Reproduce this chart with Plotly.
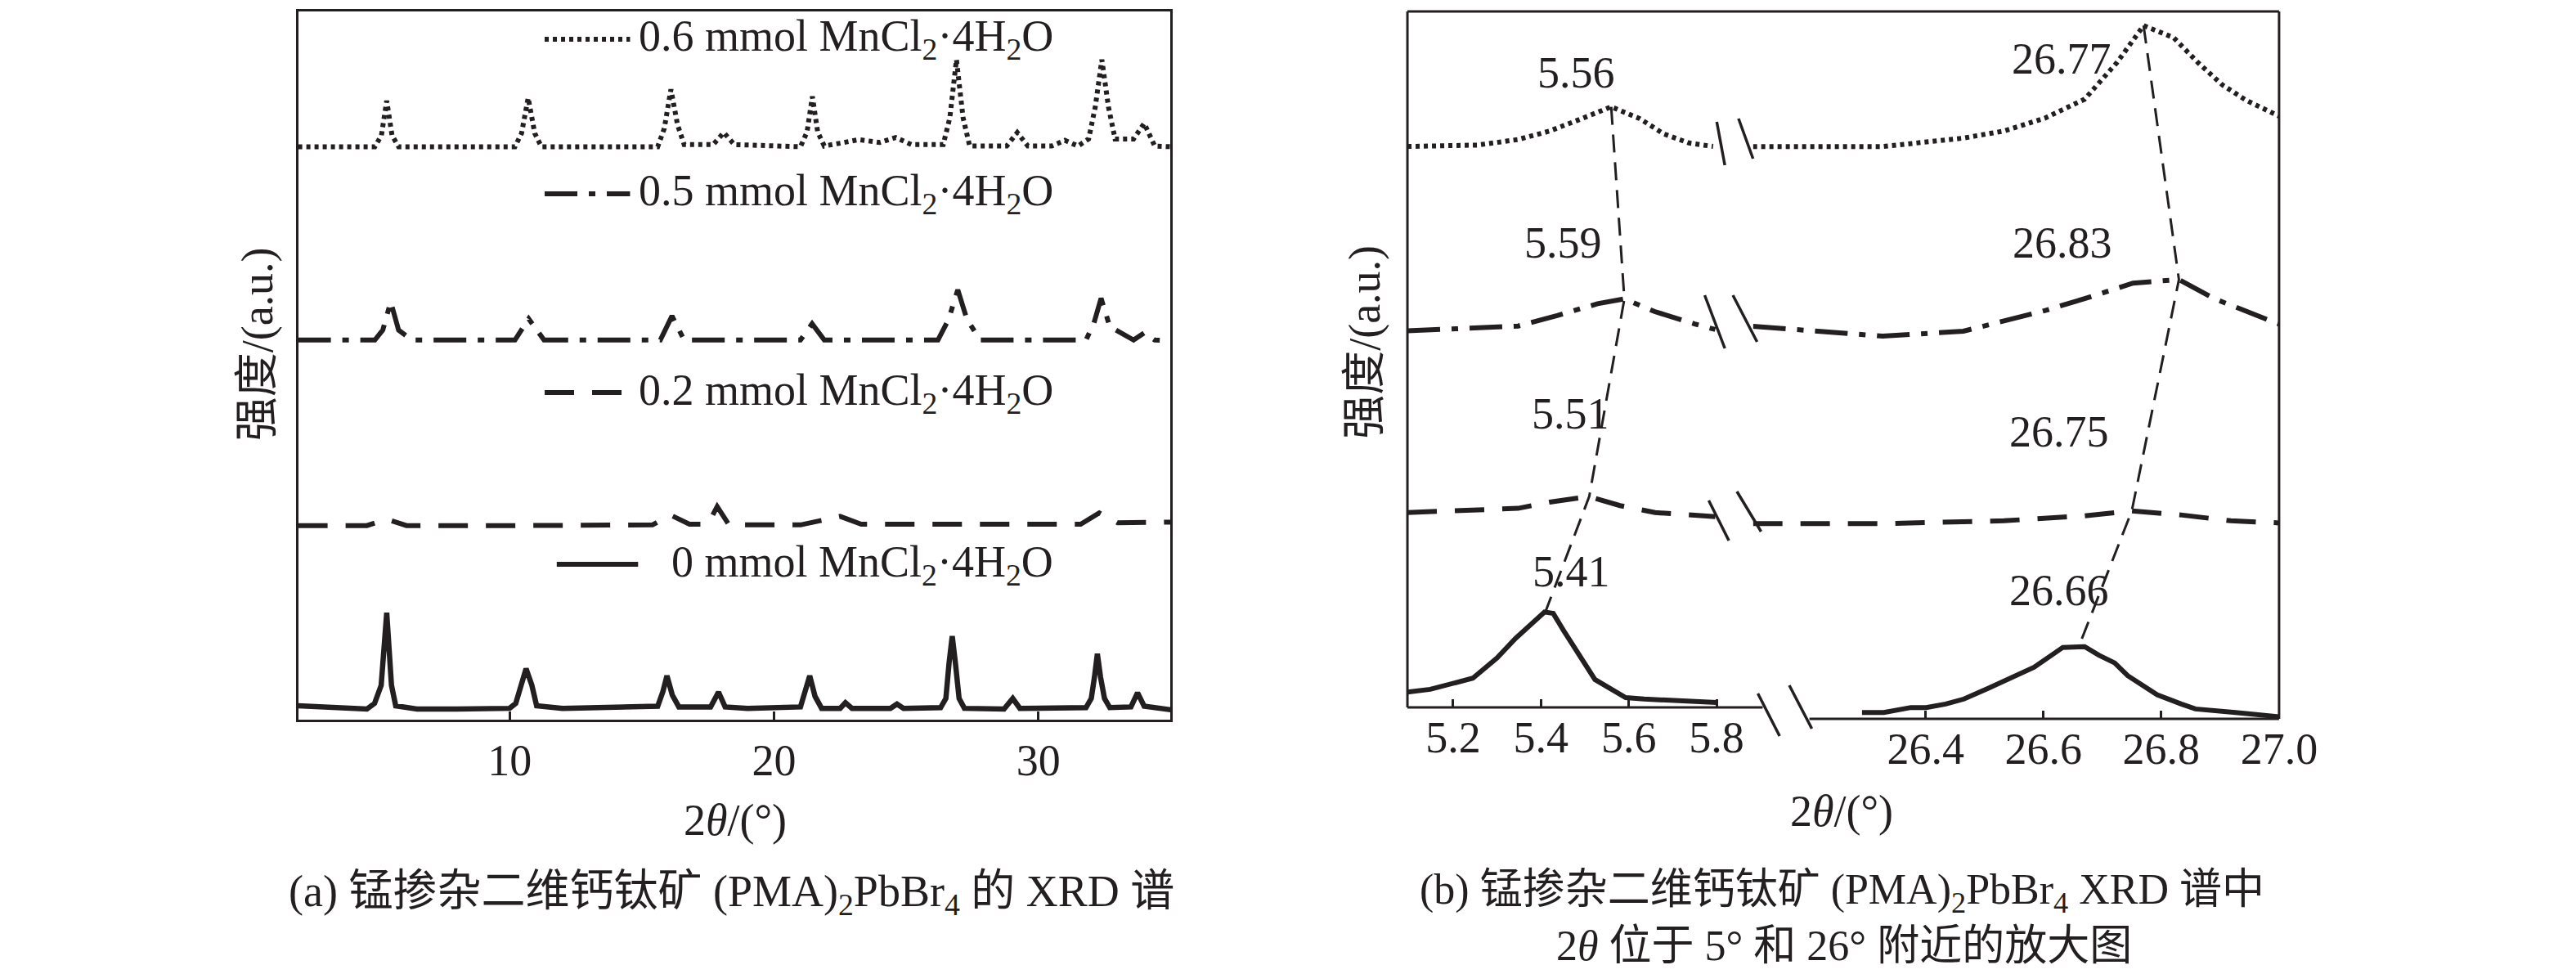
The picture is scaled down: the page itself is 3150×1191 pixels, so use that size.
import plotly.graph_objects as go

# ---- data (intensity in arbitrary units, 0-100 per panel) ----
# (a) full XRD patterns
x_0mmol = [2.0, 3.5, 4.6, 4.89, 5.14, 5.35, 5.53, 5.69, 6.5, 8.0, 10.0, 10.23, 10.41, 10.62, 10.84, 11.02,
           12.0, 14.0, 15.6, 15.8, 15.95, 16.15, 16.4, 17.6, 17.9, 18.15, 19.0, 21.0, 21.2, 21.35, 21.55,
           21.8, 22.5, 22.7, 22.95, 24.4, 24.65, 24.9, 26.3, 26.5, 26.62, 26.74, 26.86, 27.0, 27.2, 28.7,
           29.03, 29.3, 31.8, 32.0, 32.12, 32.23, 32.35, 32.5, 32.7, 33.5, 33.75, 34.0, 35.0]
y_0mmol = [1.96, 1.7, 1.5, 2.3, 4.85, 15.1, 4.85, 1.96, 1.5, 1.5, 1.6, 2.3, 4.85, 7.2, 4.85, 1.96,
           1.6, 1.7, 1.9, 4.0, 6.2, 3.5, 1.8, 1.8, 3.9, 1.8, 1.6, 1.8, 4.0, 6.2, 3.3,
           1.6, 1.6, 2.4, 1.6, 1.6, 2.2, 1.6, 1.7, 3.0, 8.0, 11.8, 8.0, 3.0, 1.6, 1.5,
           3.0, 1.6, 1.7, 3.0, 6.0, 9.3, 6.0, 3.0, 1.7, 1.8, 3.8, 1.9, 1.4]

x_02mmol = [2.0, 4.6, 5.35, 6.1, 10.0, 15.4, 16.08, 16.8, 17.5, 17.85, 18.3, 21.0, 22.5, 23.3, 28.0,
            31.6, 32.3, 33.0, 35.0]
y_02mmol = [27.4, 27.4, 28.3, 27.4, 27.4, 27.5, 28.9, 27.6, 27.6, 30.1, 27.5, 27.5, 28.7, 27.6, 27.6,
            27.6, 29.2, 27.8, 27.9]

x_05mmol = [2.0, 4.9, 5.2, 5.5, 5.8, 6.3, 10.2, 10.72, 11.3, 15.7, 16.14, 16.6, 21.0, 21.44, 21.9,
            26.2, 26.6, 26.95, 27.3, 27.8, 31.8, 32.1, 32.37, 32.7, 33.6, 34.0, 34.4, 35.0]
y_05mmol = [53.6, 53.6, 55.0, 59.0, 55.0, 53.6, 53.6, 56.6, 53.6, 53.6, 57.0, 53.6, 53.6, 55.9, 53.6,
            53.6, 56.5, 60.7, 56.5, 53.6, 53.6, 56.0, 59.5, 55.5, 53.6, 54.6, 53.6, 53.5]

x_06mmol = [2.0, 4.9, 5.15, 5.35, 5.55, 5.8, 10.2, 10.45, 10.7, 10.95, 11.2, 15.6, 15.85, 16.1, 16.35,
            16.6, 17.7, 18.1, 18.5, 21.0, 21.25, 21.45, 21.65, 21.9, 22.5, 23.2, 24.0, 24.6, 25.2,
            26.4, 26.65, 26.9, 27.15, 27.4, 28.8, 29.2, 29.6, 30.5, 31.0, 31.5, 31.9, 32.15, 32.4,
            32.65, 32.9, 33.6, 34.0, 34.4, 35.0]
y_06mmol = [80.9, 80.9, 82.5, 87.4, 82.5, 80.9, 80.9, 82.8, 87.8, 82.8, 80.9, 80.9, 83.5, 89.0, 84.0,
            81.2, 81.2, 82.9, 81.2, 80.9, 83.0, 88.0, 83.0, 81.0, 81.4, 81.9, 81.5, 82.2, 81.2,
            81.2, 85.0, 93.2, 85.0, 81.0, 81.0, 82.9, 81.0, 81.0, 81.8, 81.0, 82.0, 86.5, 93.2,
            86.5, 82.0, 82.0, 84.2, 81.0, 80.9]

# (b) zoom near 5 deg
x5_0mmol = [5.096, 5.148, 5.245, 5.300, 5.342, 5.408, 5.428, 5.452, 5.523, 5.593, 5.635, 5.800]
y5_0mmol = [2.2, 2.6, 4.2, 7.1, 9.9, 13.7, 13.5, 11.0, 4.0, 1.4, 1.2, 0.7]
x5_02mmol = [5.096, 5.348, 5.42, 5.51, 5.58, 5.66, 5.797]
y5_02mmol = [28.0, 28.6, 29.5, 30.3, 29.0, 28.0, 27.4]
x5_05mmol = [5.096, 5.348, 5.437, 5.529, 5.59, 5.658, 5.750, 5.797]
y5_05mmol = [54.1, 54.8, 56.3, 58.0, 58.7, 56.9, 55.1, 54.3]
x5_06mmol = [5.096, 5.256, 5.348, 5.419, 5.493, 5.56, 5.625, 5.680, 5.737, 5.792]
y5_06mmol = [80.6, 80.8, 81.6, 82.8, 84.6, 86.3, 84.6, 82.4, 81.1, 80.6]

# (b) zoom near 26 deg
x26_0mmol = [26.292, 26.329, 26.375, 26.401, 26.434, 26.465, 26.506, 26.547, 26.584, 26.633, 26.670,
             26.694, 26.721, 26.743, 26.793, 26.834, 26.858, 26.926, 27.0]
y26_0mmol = [0.9, 0.9, 1.6, 1.6, 2.1, 2.8, 4.3, 5.9, 7.3, 10.1, 10.2, 9.0, 7.9, 6.1, 3.4, 2.1, 1.4, 0.9, 0.3]
x26_02mmol = [26.107, 26.327, 26.533, 26.670, 26.75, 26.836, 26.918, 27.0]
y26_02mmol = [27.6, 27.6, 28.0, 28.7, 29.4, 28.8, 28.0, 27.7]
x26_05mmol = [26.107, 26.327, 26.464, 26.602, 26.670, 26.752, 26.83, 26.890, 27.0]
y26_05mmol = [55.5, 54.1, 54.8, 57.7, 59.4, 61.6, 62.1, 59.4, 55.8]
x26_06mmol = [26.107, 26.327, 26.464, 26.533, 26.602, 26.670, 26.725, 26.77, 26.821, 26.862, 26.904,
              26.945, 27.0]
y26_06mmol = [80.9, 80.9, 82.1, 83.1, 84.9, 87.6, 92.8, 98.0, 96.3, 92.8, 89.6, 87.4, 85.2]

# peak positions (labels) and their heights
peak5 = [5.56, 5.59, 5.51, 5.41]
peak5_h = [86.3, 58.7, 30.3, 13.7]
peak26 = [26.77, 26.83, 26.75, 26.66]
peak26_h = [98.0, 62.1, 29.4, 10.2]

legend_names = ["0.6 mmol MnCl<sub>2</sub>·4H<sub>2</sub>O", "0.5 mmol MnCl<sub>2</sub>·4H<sub>2</sub>O",
                "0.2 mmol MnCl<sub>2</sub>·4H<sub>2</sub>O", "0 mmol MnCl<sub>2</sub>·4H<sub>2</sub>O"]

# ---- styling ----
W, H = 3150, 1191
INK = "#231f20"
FONT = "Liberation Serif, Times New Roman, Noto Sans CJK SC"
FS = 54
DOT = "5px,5px"
DASHDOT = "40px,14px,8px,14px"
DASH = "36px,22px"


def px(x):
    return x / W


def py(y):
    return 1 - y / H


fig = go.Figure()


def add(x, y, dash, xa, ya, width=6):
    fig.add_trace(go.Scatter(x=x, y=y, mode="lines", xaxis=xa, yaxis=ya, showlegend=False,
                             line=dict(color=INK, width=width, dash=dash)))


add(x_06mmol, y_06mmol, DOT, "x", "y")
add(x_05mmol, y_05mmol, DASHDOT, "x", "y")
add(x_02mmol, y_02mmol, DASH, "x", "y")
add(x_0mmol, y_0mmol, "solid", "x", "y", 6.5)

add(x5_06mmol, y5_06mmol, DOT, "x2", "y2")
add(x5_05mmol, y5_05mmol, DASHDOT, "x2", "y2")
add(x5_02mmol, y5_02mmol, DASH, "x2", "y2")
add(x5_0mmol, y5_0mmol, "solid", "x2", "y2")
add(x26_06mmol, y26_06mmol, DOT, "x3", "y3")
add(x26_05mmol, y26_05mmol, DASHDOT, "x3", "y3")
add(x26_02mmol, y26_02mmol, DASH, "x3", "y3")
add(x26_0mmol, y26_0mmol, "solid", "x3", "y3")

# guide lines through the peak maxima
add(peak5, peak5_h, "22px,12px", "x2", "y2", 3)
add(peak26, peak26_h, "22px,12px", "x3", "y3", 3)

tick_common = dict(ticks="inside", ticklen=10, tickwidth=3, tickcolor=INK, showgrid=False, zeroline=False,
                   tickfont=dict(family=FONT, size=FS, color=INK))

fig.update_layout(
    width=W, height=H, margin=dict(l=0, r=0, t=0, b=0),
    paper_bgcolor="white", plot_bgcolor="rgba(0,0,0,0)",
    xaxis=dict(domain=[px(362), px(1445)], range=[2, 35], tickvals=[10, 20, 30], anchor="y",
               showline=True, mirror=True, linecolor=INK, linewidth=3, **tick_common),
    yaxis=dict(domain=[py(872), py(6)], range=[0, 100], anchor="x", showline=True, mirror=True,
               linecolor=INK, linewidth=3, ticks="", showticklabels=False, showgrid=False, zeroline=False),
    xaxis2=dict(domain=[px(1739), px(2180)], range=[5.096, 5.905], tickvals=[5.2, 5.4, 5.6, 5.8],
                ticktext=["5.2", "5.4", "5.6", "5.8"], anchor="y2", showline=False, **tick_common),
    yaxis2=dict(domain=[py(857), py(6)], range=[0, 100], anchor="x2", visible=False),
    xaxis3=dict(domain=[px(2168), px(2821)], range=[26.107, 27.0], tickvals=[26.4, 26.6, 26.8, 27.0],
                ticktext=["26.4", "26.6", "26.8", "27.0"], anchor="y3", showline=False, **tick_common),
    yaxis3=dict(domain=[py(871), py(6)], range=[0, 100], anchor="x3", visible=False),
)

# frame of panel (b) with the axis break
frame = [((1739, 6), (2821, 6)), ((1739, 6), (1739, 857)), ((2821, 6), (2821, 871)),
         ((1739, 857), (2180, 857)), ((2238, 871), (2821, 871))]
for (x0, y0), (x1, y1) in frame:
    fig.add_shape(type="line", xref="paper", yref="paper", x0=px(x0), y0=py(y0), x1=px(x1), y1=py(y1),
                  line=dict(color=INK, width=3))

breaks = [((2174, 840), (2201, 892)), ((2213, 830), (2241, 883)),
          ((2123, 141), (2133, 194)), ((2150, 137), (2168, 186)),
          ((2108, 353), (2133, 418)), ((2143, 353), (2173, 410)),
          ((2113, 604), (2138, 653)), ((2148, 593), (2178, 642))]
for (x0, y0), (x1, y1) in breaks:
    fig.add_shape(type="line", xref="paper", yref="paper", x0=px(x0), y0=py(y0), x1=px(x1), y1=py(y1),
                  line=dict(color=INK, width=3.5))

# legend of panel (a)
legend_pos = [(668, 774, 40, DOT), (668, 774, 229, DASHDOT), (668, 764, 472, DASH), (683, 784, 682, "solid")]
for name, (x0, x1, yy, dash) in zip(legend_names, legend_pos):
    fig.add_shape(type="line", xref="paper", yref="paper", x0=px(x0), y0=py(yy), x1=px(x1), y1=py(yy),
                  line=dict(color=INK, width=6, dash=dash))
    fig.add_annotation(x=px(1301), y=py(yy), xref="paper", yref="paper", text=name, showarrow=False,
                       xanchor="right", yanchor="middle", font=dict(family=FONT, size=FS, color=INK))

# peak labels
labels = [("5.56", 1949, 81), ("5.59", 1932, 289), ("5.51", 1941, 498), ("5.41", 1942, 691),
          ("26.77", 2551, 64), ("26.83", 2552, 289), ("26.75", 2548, 520), ("26.66", 2548, 714)]
for t, xx, yy in labels:
    fig.add_annotation(x=px(xx), y=py(yy), xref="paper", yref="paper", text=t, showarrow=False,
                       xanchor="center", yanchor="middle", font=dict(family=FONT, size=FS, color=INK))

texts = [("强度/(a.u.)", 312, 413, -90, FS), ("强度/(a.u.)", 1686, 410, -90, FS),
         ("2<i>θ</i>/(°)", 905, 995, 0, FS), ("2<i>θ</i>/(°)", 2278, 984, 0, FS),
         ("(a) 锰掺杂二维钙钛矿 (PMA)<sub>2</sub>PbBr<sub>4</sub> 的 XRD 谱", 900, 1085, 0, FS),
         ("(b) 锰掺杂二维钙钛矿 (PMA)<sub>2</sub>PbBr<sub>4</sub> XRD 谱中", 2278, 1083, 0, 52),
         ("2<i>θ</i> 位于 5° 和 26° 附近的放大图", 2281, 1148, 0, 52)]
for t, xx, yy, ang, fs in texts:
    fig.add_annotation(x=px(xx), y=py(yy), xref="paper", yref="paper", text=t, showarrow=False,
                       textangle=ang, xanchor="center", yanchor="middle",
                       font=dict(family=FONT, size=fs, color=INK))

fig.write_html("out.html")
